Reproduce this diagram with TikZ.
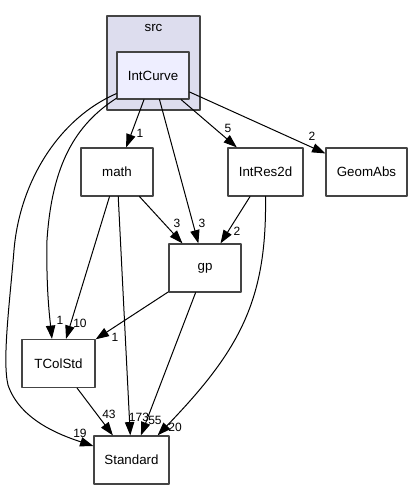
\documentclass[tikz,border=0pt]{standalone}
\usepackage{fontspec}
\setmainfont{Liberation Sans}
\usepackage{tikz}
\usetikzlibrary{arrows.meta}
\definecolor{clusterfill}{HTML}{DDDDEE}
\definecolor{boxline}{HTML}{444444}
\definecolor{curvefill}{HTML}{EEEEFF}

\begin{document}
\begin{tikzpicture}[line cap=round,line join=round,>={Triangle[length=10pt,width=7pt]},x=0.75pt,y=-0.75pt,
  dir/.style={draw=boxline,line width=0.9pt,fill=white,minimum width=54pt,minimum height=36pt,inner sep=0pt,font=\fontsize{10}{12}\selectfont},
  num/.style={inner sep=0pt,font=\fontsize{9}{10}\selectfont},
  dep/.style={->,line width=0.75pt}]
\useasboundingbox (0,0) rectangle (412,489);
% cluster
\node[dir,fill=clusterfill,minimum width=69.75pt,minimum height=70.5pt] (src) at (153.5,63) {};
\node[font=\fontsize{10}{12}\selectfont] (srclbl) at (153.5,28) {src};
% directories
\node[dir,fill=curvefill,minimum height=35.25pt] (IntCurve) at (153,75.5) {IntCurve};
\node[dir] (math) at (117,172) {math};
\node[dir,minimum width=56.25pt] (IntRes2d) at (265.5,172) {IntRes2d};
\node[dir,minimum width=60.75pt] (GeomAbs) at (366.5,172) {GeomAbs};
\node[dir] (gp) at (205,268) {gp};
\node[dir,minimum width=54.75pt] (TColStd) at (58.5,363.5) {TColStd};
\node[dir,minimum width=56.25pt] (Standard) at (131.5,460) {Standard};
% dependencies
\draw[dep] (IntCurve) -- (math);
\draw[dep] (IntCurve) -- (gp);
\draw[dep] (IntCurve) -- (IntRes2d);
\draw[dep] (IntCurve) -- (GeomAbs);
\draw[dep] (math) -- (gp);
\draw[dep] (IntRes2d) -- (gp);
\draw[dep] (math) -- (TColStd);
\draw[dep] (math) -- (Standard);
\draw[dep] (gp) -- (TColStd);
\draw[dep] (gp) -- (Standard);
\draw[dep] (TColStd) -- (Standard);
\draw[dep] ([yshift=1pt]IntCurve.south west) .. controls (75,125) and (52,165) .. (47,240)
  .. controls (46,290) and (50,320) .. ([xshift=-4.9pt]TColStd.north);
\draw[dep] ([yshift=4.5pt]IntCurve.south west) .. controls (60,118) and (20,180) .. (14,250)
  .. controls (10,300) and (2,360) .. (8,385)
  .. controls (20,420) and (60,435) .. ([yshift=10.5pt]Standard.west);
\draw[dep] (IntRes2d.south) .. controls (267,300) and (240,350) .. ([xshift=-9pt]Standard.north east);
% counts
\node[num] (n1) at (140,133) {1};
\node[num] (n2) at (228,128) {5};
\node[num] (n3) at (312,136) {2};
\node[num] (n4) at (177,223) {3};
\node[num] (n5) at (202,223) {3};
\node[num] (n6) at (237,231) {2};
\node[num] (n7) at (60,320) {1};
\node[num] (n8) at (80,323) {10};
\node[num] (n9) at (115,337) {1};
\node[num] (n10) at (109,414) {43};
\node[num] (n11) at (139,417) {173};
\node[num] (n12) at (155,420) {55};
\node[num] (n13) at (175,427) {20};
\node[num] (n14) at (80,433) {19};
\end{tikzpicture}
\end{document}
